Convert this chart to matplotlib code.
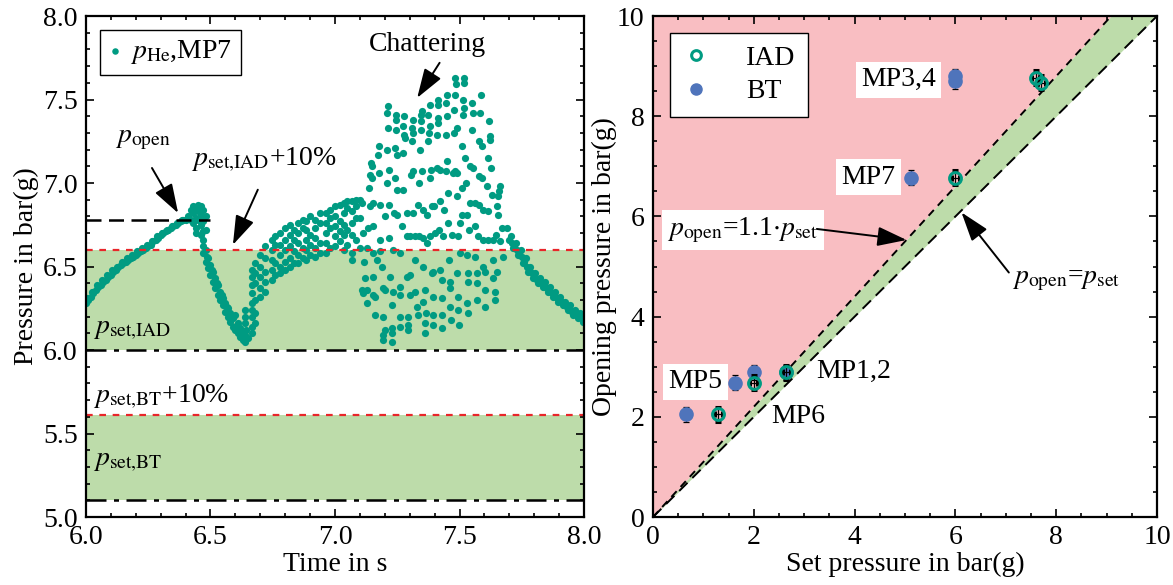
import numpy as np
import matplotlib
matplotlib.use("Agg")
import matplotlib.pyplot as plt
from matplotlib.ticker import MultipleLocator
from matplotlib.lines import Line2D

plt.rcParams['font.family'] = 'serif'
plt.rcParams['font.serif'] = ['Liberation Serif', 'DejaVu Serif']
plt.rcParams['mathtext.fontset'] = 'stix'
plt.rcParams['font.size'] = 20

# ---------------------------- left panel data (MP7) ----------------------------
# rise up to opening
t_rise = [6.00, 6.01, 6.02, 6.03, 6.04, 6.05, 6.06, 6.07, 6.08, 6.09, 6.10, 6.11, 6.12, 6.13,
          6.14, 6.15, 6.16, 6.17, 6.18, 6.19, 6.20, 6.21, 6.22, 6.23, 6.24, 6.25, 6.26, 6.27,
          6.28, 6.29, 6.30, 6.31, 6.32, 6.33, 6.34, 6.35, 6.36, 6.37, 6.38, 6.39, 6.40,
          6.005, 6.025, 6.045, 6.065, 6.085, 6.105, 6.125, 6.145, 6.165, 6.185, 6.205, 6.225,
          6.245, 6.265, 6.285, 6.305, 6.325, 6.345, 6.365, 6.385]
p_rise = [6.28, 6.30, 6.32, 6.34, 6.36, 6.38, 6.39, 6.41, 6.42, 6.44, 6.45, 6.47, 6.48, 6.50,
          6.51, 6.52, 6.53, 6.54, 6.55, 6.56, 6.57, 6.58, 6.59, 6.60, 6.61, 6.62, 6.63, 6.65,
          6.66, 6.67, 6.69, 6.70, 6.71, 6.72, 6.73, 6.74, 6.75, 6.76, 6.77, 6.78, 6.78,
          6.31, 6.35, 6.39, 6.42, 6.45, 6.48, 6.50, 6.53, 6.55, 6.57, 6.59, 6.61,
          6.63, 6.65, 6.68, 6.70, 6.72, 6.74, 6.76, 6.78]

# opening cluster + first drop
t_drop = [6.41, 6.42, 6.42, 6.43, 6.43, 6.43, 6.44, 6.44, 6.45, 6.45, 6.45, 6.46, 6.46, 6.46,
          6.47, 6.47, 6.47, 6.44, 6.48, 6.48, 6.44, 6.46, 6.47,
          6.47, 6.47, 6.48, 6.48, 6.49, 6.49, 6.50, 6.50, 6.51, 6.51, 6.52, 6.52, 6.53, 6.53,
          6.54, 6.54, 6.55, 6.55, 6.56, 6.56, 6.57, 6.57, 6.58, 6.58, 6.59, 6.59, 6.60, 6.60,
          6.61, 6.61, 6.62, 6.62, 6.63, 6.63, 6.64, 6.64, 6.65,
          6.485, 6.505, 6.525, 6.545, 6.565, 6.585, 6.605, 6.625,
          6.638, 6.640, 6.638, 6.642, 6.640]
p_drop = [6.80, 6.84, 6.78, 6.86, 6.82, 6.76, 6.79, 6.73, 6.87, 6.83, 6.78, 6.86, 6.81, 6.75,
          6.84, 6.77, 6.71, 6.70, 6.80, 6.72, 6.84, 6.69, 6.66,
          6.62, 6.58, 6.60, 6.53, 6.55, 6.49, 6.51, 6.45, 6.47, 6.41, 6.43, 6.37, 6.39, 6.33,
          6.35, 6.30, 6.31, 6.27, 6.28, 6.23, 6.25, 6.20, 6.22, 6.17, 6.19, 6.14, 6.21, 6.12,
          6.16, 6.10, 6.13, 6.08, 6.11, 6.06, 6.09, 6.05, 6.07,
          6.56, 6.48, 6.40, 6.33, 6.26, 6.20, 6.15, 6.11,
          6.24, 6.20, 6.16, 6.12, 6.08]

# refilling with oscillations
t_refill = [6.665] * 9 + [6.68] * 6 + [6.70] * 5 + [6.72] * 5 + [6.745] * 5 + [6.76] * 4 \
    + [6.78] * 5 + [6.80] * 5 + [6.82] * 5 + [6.835] * 4 + [6.85] * 5 + [6.87] * 4 \
    + [6.885] * 5 + [6.90] * 4 + [6.92] * 5 + [6.94] * 4 + [6.965] * 5 + [6.98] * 4 \
    + [7.00] * 5 + [7.02] * 4 + [7.035] * 5 + [7.05] * 4 + [7.07] * 6 + [7.085] * 4
p_refill = [6.48, 6.44, 6.39, 6.34, 6.28, 6.24, 6.20, 6.14, 6.10,
            6.52, 6.46, 6.40, 6.30, 6.22, 6.16,
            6.57, 6.50, 6.44, 6.37, 6.32,
            6.62, 6.55, 6.47, 6.41, 6.35,
            6.66, 6.60, 6.54, 6.48, 6.42,
            6.68, 6.63, 6.52, 6.45,
            6.70, 6.63, 6.57, 6.50, 6.46,
            6.73, 6.66, 6.60, 6.53, 6.48,
            6.75, 6.69, 6.62, 6.55, 6.50,
            6.72, 6.66, 6.59, 6.52,
            6.76, 6.70, 6.64, 6.57, 6.52,
            6.78, 6.73, 6.61, 6.55,
            6.77, 6.72, 6.66, 6.60, 6.54,
            6.80, 6.69, 6.63, 6.57,
            6.78, 6.73, 6.67, 6.61, 6.56,
            6.82, 6.76, 6.64, 6.58,
            6.82, 6.76, 6.70, 6.64, 6.58,
            6.84, 6.79, 6.73, 6.61,
            6.86, 6.80, 6.74, 6.68, 6.62,
            6.87, 6.77, 6.71, 6.65,
            6.88, 6.82, 6.75, 6.69, 6.60,
            6.89, 6.85, 6.72, 6.63,
            6.89, 6.83, 6.76, 6.69, 6.58, 6.54,
            6.90, 6.86, 6.79, 6.66]

# chattering
t_chat = [7.482, 7.518, 7.485, 7.518, 7.448, 7.482, 7.585, 7.415, 7.381, 7.415, 7.446, 7.515,
          7.549, 7.519, 7.553, 7.582, 7.348, 7.345, 7.278, 7.245, 7.214, 7.210, 7.245, 7.314,
          7.345, 7.375, 7.415, 7.451, 7.479, 7.515, 7.620, 7.214, 7.245, 7.274, 7.310, 7.345,
          7.381, 7.415, 7.489, 7.478, 7.549, 7.446, 7.408, 7.379, 7.314, 7.278, 7.281, 7.308,
          7.375, 7.580, 7.623, 7.623, 7.589, 7.509, 7.341, 7.274, 7.241, 7.207, 7.178, 7.174,
          7.250, 7.616, 7.522, 7.143, 7.147, 7.217, 7.451, 7.411, 7.422, 7.384, 7.348, 7.314,
          7.304, 7.489, 7.482, 7.475, 7.542, 7.556, 7.625, 7.580, 7.589, 7.140, 7.176, 7.241,
          7.381, 7.446, 7.339, 7.207, 7.147, 7.136, 7.272, 7.250, 7.509, 7.526, 7.609, 7.663,
          7.660, 7.653, 7.452, 7.491, 7.629, 7.100, 7.107, 7.140, 7.154, 7.180, 7.218, 7.335,
          7.352, 7.388, 7.422, 7.438, 7.397, 7.314, 7.288, 7.238, 7.250, 7.368, 7.542, 7.562,
          7.580, 7.596, 7.616, 7.649, 7.656, 7.509, 7.455, 7.529, 7.562, 7.502, 7.418, 7.402,
          7.381, 7.368, 7.355, 7.321, 7.288, 7.301, 7.339, 7.268, 7.200, 7.154, 7.134, 7.113,
          7.100, 7.180, 7.218, 7.435, 7.468, 7.495, 7.540, 7.576, 7.596, 7.616, 7.633, 7.647,
          7.670, 7.690, 7.663,
          7.100, 7.127, 7.154, 7.180, 7.234, 7.261, 7.116, 7.167, 7.187, 7.321, 7.355, 7.395,
          7.422, 7.459, 7.502, 7.529, 7.562, 7.596, 7.603, 7.636, 7.649, 7.676, 7.120, 7.154,
          7.221, 7.288, 7.301, 7.388, 7.428, 7.462, 7.491, 7.536, 7.569, 7.636, 7.107, 7.127,
          7.160, 7.194, 7.234, 7.261, 7.321, 7.361, 7.462, 7.495, 7.536, 7.569, 7.603, 7.643,
          7.113, 7.127, 7.154, 7.200, 7.227, 7.261, 7.301, 7.328, 7.355, 7.392, 7.428, 7.462,
          7.495, 7.529, 7.569, 7.603, 7.643, 7.160, 7.194, 7.261, 7.294, 7.335, 7.365, 7.395,
          7.428, 7.464, 7.499, 7.536, 7.200, 7.227, 7.261, 7.294, 7.361, 7.395, 7.428, 7.194,
          7.194, 7.227, 7.230, 7.361, 7.294]
p_chat = [7.63, 7.63, 7.59, 7.60, 7.53, 7.53, 7.53, 7.50, 7.47, 7.47, 7.48, 7.50,
          7.48, 7.45, 7.42, 7.42, 7.43, 7.41, 7.40, 7.41, 7.46, 7.42, 7.38, 7.38,
          7.37, 7.41, 7.39, 7.40, 7.44, 7.41, 7.37, 7.33, 7.32, 7.34, 7.33, 7.32,
          7.34, 7.36, 7.33, 7.30, 7.32, 7.29, 7.29, 7.30, 7.30, 7.29, 7.27, 7.25,
          7.25, 7.25, 7.28, 7.26, 7.22, 7.22, 7.20, 7.18, 7.21, 7.20, 7.22, 7.17,
          7.17, 7.15, 7.15, 7.12, 7.10, 7.08, 7.13, 7.09, 7.08, 7.08, 7.07, 7.07,
          7.05, 7.06, 7.07, 7.06, 7.10, 7.09, 7.09, 7.04, 7.03, 7.05, 7.06, 7.03,
          7.03, 7.07, 7.00, 7.00, 7.03, 6.97, 6.96, 6.96, 6.97, 7.00, 6.98, 6.98,
          6.95, 6.92, 6.94, 6.92, 6.93, 6.90, 6.88, 6.86, 6.88, 6.87, 6.87, 6.87,
          6.84, 6.86, 6.89, 6.84, 6.86, 6.82, 6.82, 6.82, 6.81, 6.81, 6.88, 6.88,
          6.87, 6.84, 6.83, 6.86, 6.81, 6.81, 6.76, 6.81, 6.74, 6.76, 6.72, 6.70,
          6.68, 6.64, 6.67, 6.68, 6.68, 6.68, 6.68, 6.74, 6.80, 6.74, 6.73, 6.70,
          6.79, 6.66, 6.67, 6.68, 6.69, 6.68, 6.72, 6.68, 6.66, 6.66, 6.66, 6.69,
          6.73, 6.73, 6.65,
          6.61, 6.61, 6.58, 6.59, 6.60, 6.58, 6.53, 6.54, 6.50, 6.54, 6.50, 6.47,
          6.48, 6.54, 6.58, 6.57, 6.56, 6.50, 6.47, 6.54, 6.47, 6.56, 6.43, 6.44,
          6.44, 6.44, 6.45, 6.46, 6.42, 6.41, 6.46, 6.46, 6.46, 6.43, 6.36, 6.36,
          6.32, 6.37, 6.35, 6.38, 6.35, 6.36, 6.37, 6.32, 6.41, 6.40, 6.36, 6.35,
          6.34, 6.28, 6.33, 6.36, 6.27, 6.33, 6.33, 6.26, 6.29, 6.32, 6.31, 6.26,
          6.24, 6.28, 6.30, 6.26, 6.30, 6.21, 6.20, 6.20, 6.20, 6.21, 6.22, 6.21,
          6.21, 6.18, 6.15, 6.22, 6.12, 6.13, 6.14, 6.15, 6.16, 6.15, 6.13, 6.09,
          6.06, 6.10, 6.05, 6.10, 6.12]

# closing and pressure decay
t_fall = [7.70, 7.71, 7.72, 7.73, 7.74, 7.75, 7.76, 7.77, 7.78, 7.79, 7.80, 7.81, 7.82, 7.83,
          7.84, 7.85, 7.86, 7.87, 7.88, 7.89, 7.90, 7.91, 7.92, 7.93, 7.94, 7.95, 7.96, 7.97,
          7.98, 7.99, 8.00,
          7.705, 7.725, 7.745, 7.765, 7.785, 7.805, 7.825, 7.845, 7.865, 7.885, 7.905, 7.925,
          7.945, 7.965, 7.985,
          7.715, 7.735, 7.755, 7.775, 7.795, 7.815, 7.835, 7.855, 7.875, 7.895, 7.915, 7.935,
          7.955, 7.975, 7.995]
p_fall = [6.66, 6.64, 6.62, 6.60, 6.58, 6.56, 6.53, 6.50, 6.48, 6.46, 6.44, 6.42, 6.41, 6.40,
          6.38, 6.37, 6.36, 6.34, 6.33, 6.31, 6.30, 6.29, 6.27, 6.26, 6.25, 6.23, 6.22, 6.21,
          6.20, 6.19, 6.18,
          6.68, 6.64, 6.60, 6.55, 6.50, 6.46, 6.43, 6.41, 6.38, 6.35, 6.32, 6.29,
          6.27, 6.24, 6.22,
          6.61, 6.57, 6.52, 6.47, 6.43, 6.40, 6.38, 6.35, 6.32, 6.29, 6.27, 6.24,
          6.21, 6.19, 6.17]

t_he = np.concatenate([t_rise, t_drop, t_refill, t_chat, t_fall])
p_he = np.concatenate([p_rise, p_drop, p_refill, p_chat, p_fall])

p_open_mp7 = 6.78
p_set_iad = 6.0
p_set_bt = 5.1
tol = 1.1  # +10 %

# ---------------------------- right panel data --------------------------------
set_iad = [1.29, 2.00, 2.64, 6.00, 7.59, 7.70]
open_iad = [2.05, 2.68, 2.89, 6.77, 8.77, 8.67]
set_bt = [0.66, 1.62, 2.00, 2.64, 5.11, 6.00, 6.00]
open_bt = [2.05, 2.68, 2.89, 2.89, 6.77, 8.70, 8.80]
xerr_p = 0.07
yerr_p = 0.15

teal = '#009b82'
blue = '#4f74bb'
green_fill = '#bddcaa'
red_fill = '#f9bec2'

fig = plt.figure(figsize=(11.73, 5.85), dpi=100)
ax1 = fig.add_axes([0.0733, 0.1162, 0.4246, 0.8564])
ax2 = fig.add_axes([0.5567, 0.1162, 0.4297, 0.8564])

# ------------------------------- left panel -----------------------------------
ax1.axhspan(p_set_iad, p_set_iad * tol, color=green_fill, lw=0, zorder=0)
ax1.axhspan(p_set_bt, p_set_bt * tol, color=green_fill, lw=0, zorder=0)
ax1.scatter(t_he, p_he, s=27, color=teal, linewidths=0, zorder=2,
            label=r'$p_{\rm He}$,MP7')
for pv in (p_set_iad * tol, p_set_bt * tol):
    ax1.axhline(pv, color='#e8262a', lw=1.6, dashes=(3, 3), zorder=3)
for pv in (p_set_iad, p_set_bt):
    ax1.axhline(pv, color='k', lw=1.8, dashes=(8, 3, 2, 3), zorder=3)
ax1.plot([6.0, 6.5], [p_open_mp7, p_open_mp7], color='k', lw=1.8, dashes=(6, 3), zorder=3)

arw = dict(arrowstyle='-|>,head_length=0.9,head_width=0.3', color='k', lw=1.4,
           shrinkA=0, shrinkB=0)
ax1.text(6.23, 7.26, r'$p_{\rm open}$', ha='center', va='center')
ax1.annotate('', xy=(6.37, 6.82), xytext=(6.265, 7.09), arrowprops=arw)
ax1.text(6.42, 7.14, r'$p_{\rm set{,}IAD}$+10%', ha='left', va='center')
ax1.annotate('', xy=(6.59, 6.63), xytext=(6.69, 6.96), arrowprops=arw)
ax1.text(7.37, 7.83, 'Chattering', ha='center', va='center')
ax1.annotate('', xy=(7.33, 7.51), xytext=(7.42, 7.72), arrowprops=arw)
ax1.text(6.03, 6.12, r'$p_{\rm set{,}IAD}$', ha='left', va='center')
ax1.text(6.03, 5.72, r'$p_{\rm set{,}BT}$+10%', ha='left', va='center')
ax1.text(6.03, 5.33, r'$p_{\rm set{,}BT}$', ha='left', va='center')

ax1.set_xlim(6.0, 8.0)
ax1.set_ylim(5.0, 8.0)
ax1.xaxis.set_major_locator(MultipleLocator(0.5))
ax1.xaxis.set_minor_locator(MultipleLocator(0.1))
ax1.yaxis.set_major_locator(MultipleLocator(0.5))
ax1.yaxis.set_minor_locator(MultipleLocator(0.1))
ax1.xaxis.set_major_formatter(lambda v, pos: f'{v:.1f}')
ax1.yaxis.set_major_formatter(lambda v, pos: f'{v:.1f}')
ax1.set_xlabel('Time in s', labelpad=1)
ax1.set_ylabel('Pressure in bar(g)', labelpad=3)
leg1 = ax1.legend(loc='upper left', fancybox=False, edgecolor='k', framealpha=1,
                  handlelength=0.5, handletextpad=0.3, borderpad=0.3, markerscale=0.9)
leg1.get_frame().set_linewidth(1.0)

# ------------------------------- right panel ----------------------------------
xs = np.array([0.0, 10.0])
ax2.fill_between(xs, xs * tol, 10, color=red_fill, lw=0, zorder=0)
ax2.fill_between(xs, xs, xs * tol, color=green_fill, lw=0, zorder=0)
ax2.plot(xs, xs * tol, color='k', lw=1.4, dashes=(4, 3), zorder=2)
ax2.plot(xs, xs, color='k', lw=1.4, dashes=(6, 3.5), zorder=2)

ax2.errorbar(set_bt, open_bt, xerr=xerr_p, yerr=yerr_p, fmt='o', ms=9.5, color=blue,
             mec=blue, ecolor='k', elinewidth=0.9, capsize=2, capthick=0.9, zorder=4)
ax2.errorbar(set_iad, open_iad, xerr=xerr_p, yerr=yerr_p, fmt='o', ms=8.5, mfc='none',
             mec=teal, mew=2.2, ecolor='k', elinewidth=0.9, capsize=2, capthick=0.9,
             zorder=5)

box = dict(facecolor='white', edgecolor='none', pad=4)
ax2.text(4.87, 8.73, 'MP3,4', ha='center', va='center', bbox=box)
ax2.text(4.27, 6.78, 'MP7', ha='center', va='center', bbox=box)
ax2.text(0.84, 2.70, 'MP5', ha='center', va='center', bbox=box)
ax2.text(2.88, 2.00, 'MP6', ha='center', va='center')
ax2.text(3.23, 2.90, 'MP1,2', ha='left', va='center')
ax2.text(1.78, 5.73, r'$p_{\rm open}$=1.1$\cdot p_{\rm set}$', ha='center', va='center',
         bbox=box)
ax2.annotate('', xy=(5.03, 5.53), xytext=(3.25, 5.75), arrowprops=arw)
ax2.text(8.2, 4.73, r'$p_{\rm open}$=$p_{\rm set}$', ha='center', va='center')
ax2.annotate('', xy=(6.12, 6.08), xytext=(7.06, 4.88), arrowprops=arw)

ax2.set_xlim(0, 10)
ax2.set_ylim(0, 10)
ax2.xaxis.set_major_locator(MultipleLocator(2))
ax2.xaxis.set_minor_locator(MultipleLocator(0.5))
ax2.yaxis.set_major_locator(MultipleLocator(2))
ax2.yaxis.set_minor_locator(MultipleLocator(0.5))
ax2.set_xlabel('Set pressure in bar(g)', labelpad=1)
ax2.set_ylabel('Opening pressure in bar(g)', labelpad=0)
handles = [Line2D([], [], ls='none', marker='o', ms=7, mfc='none', mec=teal, mew=2.2),
           Line2D([], [], ls='none', marker='o', ms=8, color=blue)]
leg2 = ax2.legend(handles, ['IAD', 'BT'], loc='upper left', fancybox=False,
                  edgecolor='k', framealpha=1, handlelength=1.0, handletextpad=1.3,
                  borderpad=0.45, labelspacing=0.3, borderaxespad=0.6)
leg2.get_frame().set_linewidth(1.0)

for ax in (ax1, ax2):
    for sp in ax.spines.values():
        sp.set_linewidth(1.6)
        sp.set_zorder(6)
    ax.tick_params(which='both', direction='in', top=True, right=True, width=1.2)
    ax.tick_params(which='major', length=6, pad=6)
    ax.tick_params(which='minor', length=3)

fig.savefig('out.png', dpi=100)
